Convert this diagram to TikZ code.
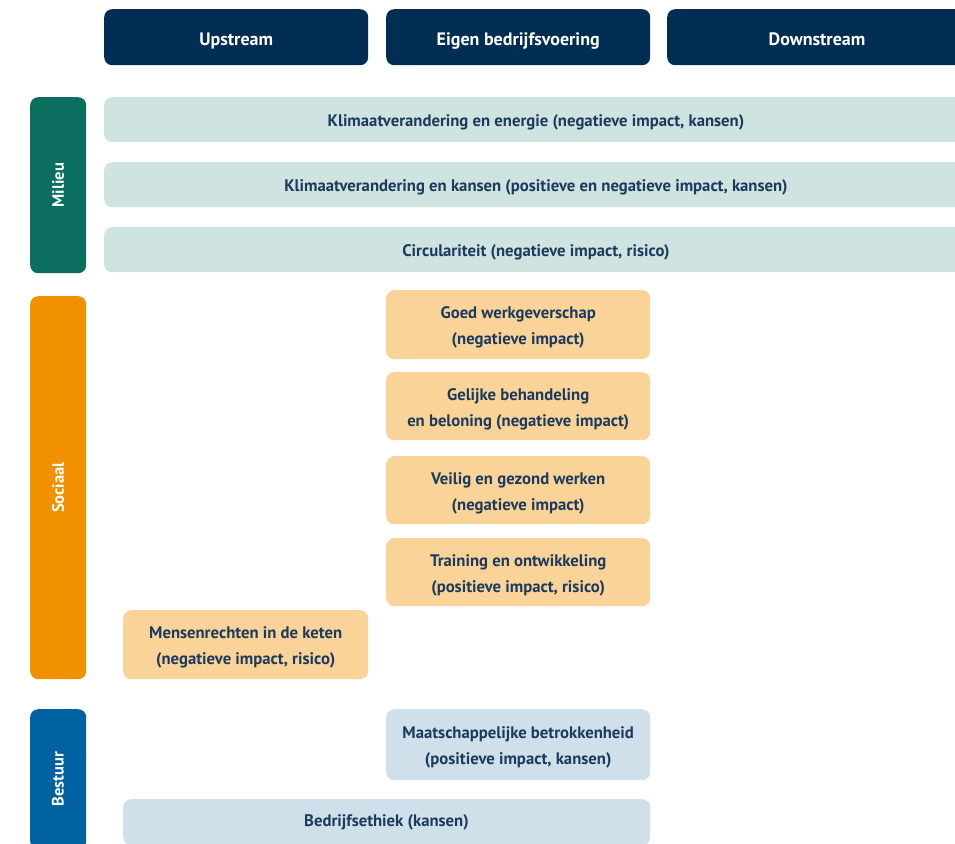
\documentclass[tikz,border=0pt]{standalone}
\usepackage{fontspec}
\setmainfont{PT Sans}
\begin{document}
\begin{tikzpicture}[x=1pt,y=-1pt,
  base/.style={rounded corners=8pt, anchor=north west, inner sep=0pt},
  head/.style={base, fill=navy, minimum width=264pt, minimum height=56pt},
  headtext/.style={text=white, inner sep=0pt, text height=12.6pt, text depth=0pt,
    font=\fontsize{18}{20}\selectfont\bfseries},
  side/.style={base, minimum width=56pt},
  sidetext/.style={text=white, rotate=90, inner sep=0pt, font=\fontsize{16.5}{20}\selectfont\bfseries},
  boxtext/.style={text=txt, inner sep=0pt, align=center, font=\fontsize{16.7}{26}\selectfont\bfseries},
  env/.style={base, fill=lgreen, minimum width=870pt, minimum height=45pt},
  soc/.style={base, fill=lorange, minimum width=264pt, minimum height=68pt},
  gov/.style={base, fill=lblue}]
\definecolor{navy}{HTML}{002D52}
\definecolor{txt}{HTML}{1B3A5C}
\definecolor{green}{HTML}{0B6E5F}
\definecolor{lgreen}{HTML}{CFE3E0}
\definecolor{orange}{HTML}{F29100}
\definecolor{lorange}{HTML}{FAD399}
\definecolor{blue}{HTML}{0062A0}
\definecolor{lblue}{HTML}{CFE0EB}
\useasboundingbox (0,0) rectangle (955,843);
\clip (0,0) rectangle (955,843);
% headers
\node[head] (up) at (104,9) {};
\node[headtext] (upt) at ([yshift=-2.5pt]up.center) {Upstream};
\node[head] (own) at (386,9) {};
\node[headtext] (ownt) at ([yshift=-2.5pt]own.center) {Eigen bedrijfsvoering};
\node[head, minimum width=300pt] (down) at (667,9) {};
\node[headtext] (downt) at (817,39.5) {Downstream};
% side bars
\node[side, fill=green, minimum height=176pt] (milieu) at (30,97) {};
\node[sidetext] (milieut) at (milieu.center) {Milieu};
\node[side, fill=orange, minimum height=383pt] (sociaal) at (30,296) {};
\node[sidetext] (sociaalt) at (sociaal.center) {Sociaal};
\node[side, fill=blue, minimum height=140pt] (bestuur) at (30,709) {};
\node[sidetext] (bestuurt) at (58,779) {Bestuur};
% milieu rows
\node[env] (e1) at (104,97) {};
\node[env] (e2) at (104,162) {};
\node[env] (e3) at (104,227) {};
\node[boxtext] (e1t) at (536,122.5) {Klimaatverandering en energie (negatieve impact, kansen)};
\node[boxtext] (e2t) at (536,187.5) {Klimaatverandering en kansen (positieve en negatieve impact, kansen)};
\node[boxtext] (e3t) at (536,252.5) {Circulariteit (negatieve impact, risico)};
% sociaal
\node[soc, minimum height=69pt] (s1) at (386,290) {};
\node[boxtext] (s1t) at ([yshift=-3pt]s1.center) {Goed werkgeverschap\\(negatieve impact)};
\node[soc] (s2) at (386,372) {};
\node[boxtext] (s2t) at ([yshift=-3pt]s2.center) {Gelijke behandeling\\en beloning (negatieve impact)};
\node[soc] (s3) at (386,456) {};
\node[boxtext] (s3t) at ([yshift=-3pt]s3.center) {Veilig en gezond werken\\(negatieve impact)};
\node[soc] (s4) at (386,538) {};
\node[boxtext] (s4t) at ([yshift=-3pt]s4.center) {Training en ontwikkeling\\(positieve impact, risico)};
\node[soc, minimum width=245pt, minimum height=69pt] (s5) at (123,610) {};
\node[boxtext] (s5t) at ([yshift=-3pt]s5.center) {Mensenrechten in de keten\\(negatieve impact, risico)};
% bestuur
\node[gov, minimum width=264pt, minimum height=71pt] (g1) at (386,709) {};
\node[boxtext] (g1t) at ([yshift=-3pt]g1.center) {Maatschappelijke betrokkenheid\\(positieve impact, kansen)};
\node[gov, minimum width=527pt, minimum height=46pt] (g2) at (123,799) {};
\node[boxtext] (g2t) at (386.5,822.5) {Bedrijfsethiek (kansen)};
\end{tikzpicture}
\end{document}
